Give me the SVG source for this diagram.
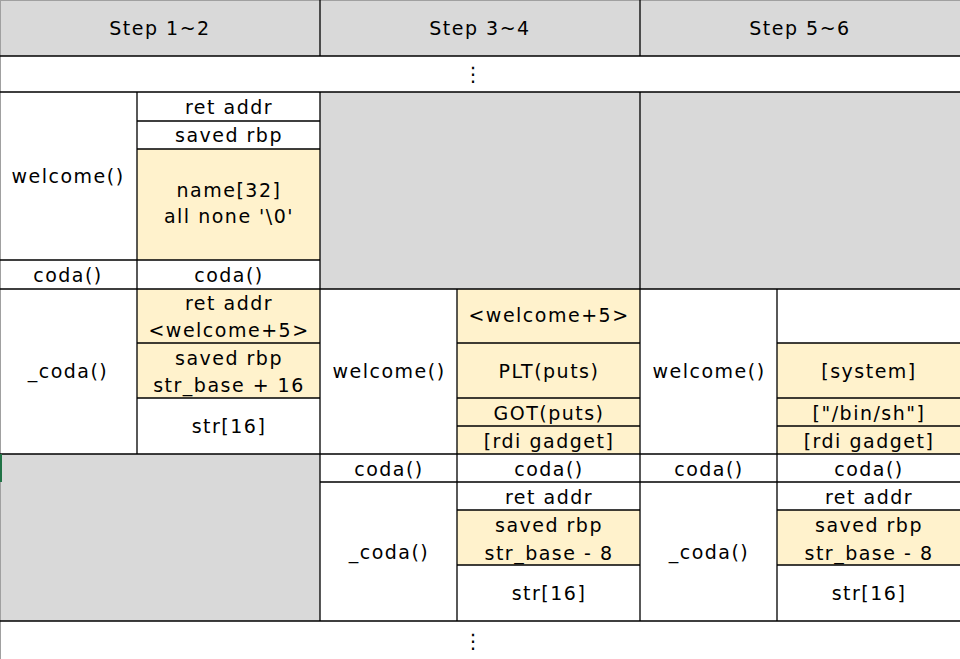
<svg xmlns="http://www.w3.org/2000/svg" width="960" height="659" viewBox="0 0 960 659">
<style>
text{font-family:"DejaVu Sans","Liberation Sans",sans-serif;font-size:19px;letter-spacing:1.5px;text-anchor:middle;fill:#000}
.g{fill:#d9d9d9}
.y{fill:#fff2cc}
.w{fill:#fff}
.ln{stroke:#000;stroke-width:1.3;fill:none}
.dots{letter-spacing:0;font-size:20px}
</style>
<rect x="0" y="0" width="960" height="659" fill="#fff"/>
<g id="header">
<rect class="g" x="0" y="0" width="960" height="56"/>
<text x="160" y="35">Step 1~2</text>
<text x="480" y="35">Step 3~4</text>
<text x="800" y="35">Step 5~6</text>
</g>
<g id="ellipsis-top"><text class="dots" x="473" y="81">⋮</text></g>
<g id="fills">
<rect class="y" x="137" y="149" width="183" height="111"/>
<rect class="y" x="137" y="289" width="183" height="109"/>
<rect class="g" x="320" y="92" width="640" height="197"/>
<rect class="y" x="457" y="289" width="183" height="165"/>
<rect class="y" x="777" y="343" width="183" height="111"/>
<rect class="g" x="0" y="454" width="320" height="167"/>
<rect class="y" x="457" y="510" width="183" height="55"/>
<rect class="y" x="777" y="510" width="183" height="55"/>
</g>
<g id="s12-welcome"><text x="68" y="183">welcome()</text></g>
<g id="s12-retaddr"><text x="229" y="114">ret addr</text></g>
<g id="s12-savedrbp"><text x="229" y="142">saved rbp</text></g>
<g id="s12-name"><text x="229" y="197">name[32]</text><text x="229" y="223">all none '\0'</text></g>
<g id="s12-coda-a"><text x="68" y="282">coda()</text></g>
<g id="s12-coda-b"><text x="229" y="282">coda()</text></g>
<g id="s12-_coda"><text x="68" y="378">_coda()</text></g>
<g id="s12-ret"><text x="229" y="310">ret addr</text><text x="229" y="337">&lt;welcome+5&gt;</text></g>
<g id="s12-rbp"><text x="229" y="365">saved rbp</text><text x="229" y="392">str_base + 16</text></g>
<g id="s12-str"><text x="229" y="433">str[16]</text></g>

<g id="s34-welcome"><text x="389" y="378">welcome()</text></g>
<g id="s34-ret"><text x="549" y="322">&lt;welcome+5&gt;</text></g>
<g id="s34-plt"><text x="549" y="378">PLT(puts)</text></g>
<g id="s34-got"><text x="549" y="420">GOT(puts)</text></g>
<g id="s34-rdi"><text x="549" y="448">[rdi gadget]</text></g>
<g id="s34-coda-a"><text x="389" y="476">coda()</text></g>
<g id="s34-coda-b"><text x="549" y="476">coda()</text></g>
<g id="s34-_coda"><text x="389" y="559">_coda()</text></g>
<g id="s34-retaddr"><text x="549" y="504">ret addr</text></g>
<g id="s34-rbp"><text x="549" y="532">saved rbp</text><text x="549" y="560">str_base - 8</text></g>
<g id="s34-str"><text x="549" y="600">str[16]</text></g>

<g id="s56-welcome"><text x="709" y="378">welcome()</text></g>
<g id="s56-system"><text x="869" y="378">[system]</text></g>
<g id="s56-binsh"><text x="869" y="420">["/bin/sh"]</text></g>
<g id="s56-rdi"><text x="869" y="448">[rdi gadget]</text></g>
<g id="s56-coda-a"><text x="709" y="476">coda()</text></g>
<g id="s56-coda-b"><text x="869" y="476">coda()</text></g>
<g id="s56-_coda"><text x="709" y="559">_coda()</text></g>
<g id="s56-retaddr"><text x="869" y="504">ret addr</text></g>
<g id="s56-rbp"><text x="869" y="532">saved rbp</text><text x="869" y="560">str_base - 8</text></g>
<g id="s56-str"><text x="869" y="600">str[16]</text></g>

<g id="ellipsis-bottom"><text class="dots" x="473" y="648">⋮</text></g>

<g id="connectors">
<path d="M0 0.5H960M0.5 0V659" stroke="#a0a0a0" stroke-width="1" fill="none"/>
<path class="ln" d="M0 56H960M0 92H960M0 289H960M0 454H960M0 621H960"/>
<path class="ln" d="M137 121H320M137 149H320M0 260H320M137 343H320M137 398H320"/>
<path class="ln" d="M457 343H640M457 398H640M457 426H640M320 482H960M457 510H640M457 565H640"/>
<path class="ln" d="M777 343H960M777 398H960M777 426H960M777 510H960M777 565H960"/>
<path class="ln" d="M320 0V56M640 0V56M137 92V454M320 92V621M640 92V621M457 289V621M777 289V621"/>
<path d="M1 454V482" stroke="#217346" stroke-width="2" fill="none"/>
</g>
</svg>
